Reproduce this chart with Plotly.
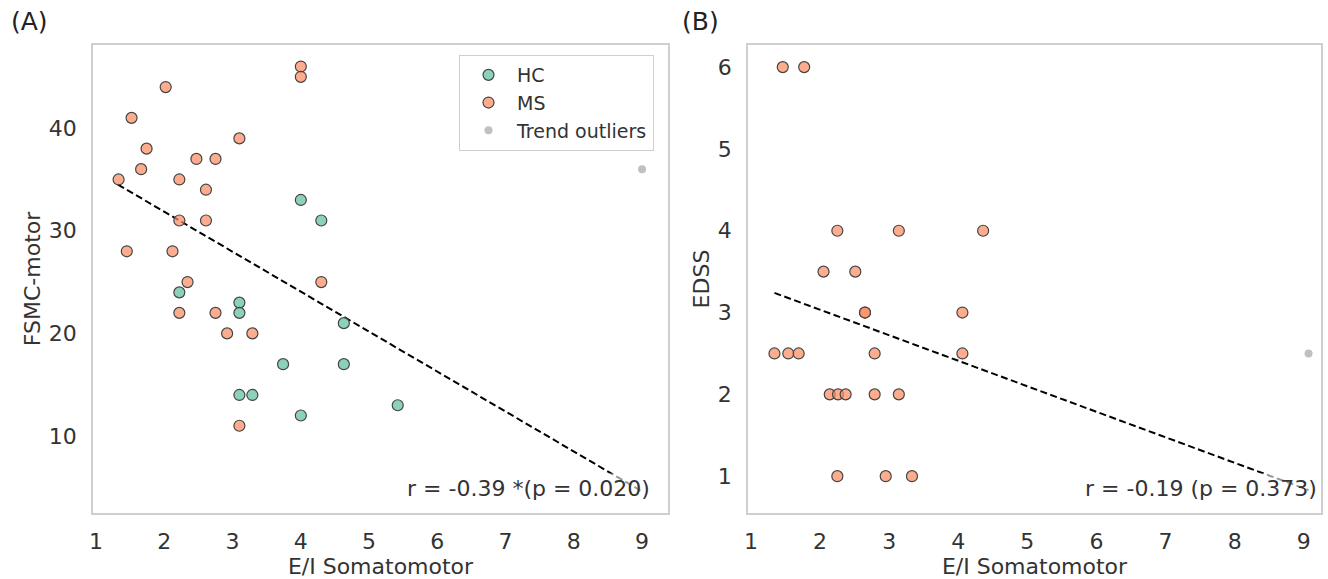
import plotly.graph_objects as go

# ---------- data ----------
# Panel A: FSMC-motor vs E/I Somatomotor
hc_a_x = [4.0, 4.30, 2.22, 3.10, 3.10, 4.63, 3.74, 4.63, 3.10, 3.29, 4.0, 5.42]
hc_a_y = [33, 31, 24, 23, 22, 21, 17, 17, 14, 14, 12, 13]
ms_a_x = [4.0, 4.0, 2.02, 1.52, 3.10, 1.74, 2.47, 2.75, 1.66, 1.33, 2.22, 2.61,
          2.22, 2.61, 1.45, 2.12, 2.34, 4.30, 2.22, 2.75, 2.92, 3.29, 3.10]
ms_a_y = [46, 45, 44, 41, 39, 38, 37, 37, 36, 35, 35, 34,
          31, 31, 28, 28, 25, 25, 22, 22, 20, 20, 11]
out_a_x = [9.0]
out_a_y = [36]
trend_a_x = [1.32, 9.0]
trend_a_y = [34.5, 4.6]
stat_a = "r = -0.39 *(p = 0.020)"

# Panel B: EDSS vs E/I Somatomotor (MS only)
ms_b_x = [1.46, 1.77, 2.25, 3.14, 4.36, 2.05, 2.51, 2.65, 2.65, 4.06, 1.34, 1.54,
          1.69, 2.79, 4.06, 2.14, 2.26, 2.37, 2.79, 3.14, 2.25, 2.95, 3.33]
ms_b_y = [6, 6, 4, 4, 4, 3.5, 3.5, 3, 3, 3, 2.5, 2.5,
          2.5, 2.5, 2.5, 2, 2, 2, 2, 2, 1, 1, 1]
out_b_x = [9.07]
out_b_y = [2.5]
trend_b_x = [1.34, 9.07]
trend_b_y = [3.24, 0.83]
stat_b = "r = -0.19 (p = 0.373)"

x_ticks = [1, 2, 3, 4, 5, 6, 7, 8, 9]
y_ticks_a = [10, 20, 30, 40]
y_ticks_b = [1, 2, 3, 4, 5, 6]

# ---------- style ----------
W, H = 1328, 579
FONT = "DejaVu Sans"
TXT = "#333333"
HC_COL = "rgba(102,194,165,0.75)"
MS_COL = "rgba(252,141,98,0.72)"
EDGE = "#444444"
OUT_COL = "#c0c0c0"
FRAME = "#cfcfcf"
DASH = "7px,3.5px"

def px_x(p):
    return p / W

def px_y(p):
    return 1 - p / H

fig = go.Figure()

mk = lambda c: dict(size=11, color=c, line=dict(color=EDGE, width=1.2))

# Panel A
fig.add_trace(go.Scatter(x=trend_a_x, y=trend_a_y, mode="lines",
                         line=dict(color="black", width=2, dash=DASH),
                         showlegend=False, xaxis="x", yaxis="y", hoverinfo="skip"))
fig.add_trace(go.Scatter(x=hc_a_x, y=hc_a_y, mode="markers", name="HC",
                         marker=mk(HC_COL), xaxis="x", yaxis="y"))
fig.add_trace(go.Scatter(x=ms_a_x, y=ms_a_y, mode="markers", name="MS",
                         marker=mk(MS_COL), xaxis="x", yaxis="y"))
fig.add_trace(go.Scatter(x=out_a_x, y=out_a_y, mode="markers", name="Trend outliers",
                         marker=dict(size=8, color=OUT_COL), xaxis="x", yaxis="y"))

# Panel B
fig.add_trace(go.Scatter(x=trend_b_x, y=trend_b_y, mode="lines",
                         line=dict(color="black", width=2, dash=DASH),
                         showlegend=False, xaxis="x2", yaxis="y2", hoverinfo="skip"))
fig.add_trace(go.Scatter(x=ms_b_x, y=ms_b_y, mode="markers", name="MS",
                         marker=mk(MS_COL), xaxis="x2", yaxis="y2", showlegend=False))
fig.add_trace(go.Scatter(x=out_b_x, y=out_b_y, mode="markers", name="Trend outliers",
                         marker=dict(size=8, color=OUT_COL), xaxis="x2", yaxis="y2",
                         showlegend=False))

ydom = [px_y(513), px_y(45)]
axis_common = dict(showgrid=False, zeroline=False, showline=True, mirror=True,
                   linecolor=FRAME, linewidth=1.5, ticks="",
                   tickfont=dict(family=FONT, size=22, color=TXT),
                   title_font=dict(family=FONT, size=22, color=TXT),
                   automargin=False)

fig.update_layout(
    width=W, height=H,
    margin=dict(l=0, r=0, t=0, b=0),
    paper_bgcolor="white", plot_bgcolor="white",
    font=dict(family=FONT, color=TXT),
    xaxis=dict(domain=[px_x(93), px_x(668)], range=[0.955, 9.38], anchor="y",
               tickvals=x_ticks, title=dict(text="E/I Somatomotor", standoff=2),
               ticklabelstandoff=8, **axis_common),
    yaxis=dict(domain=ydom, range=[2.5, 48.1], anchor="x",
               tickvals=y_ticks_a, title=dict(text="FSMC-motor", standoff=2),
               ticklabelstandoff=10, **axis_common),
    xaxis2=dict(domain=[px_x(748), px_x(1321)], range=[0.957, 9.25], anchor="y2",
                tickvals=x_ticks, title=dict(text="E/I Somatomotor", standoff=2),
                ticklabelstandoff=8, **axis_common),
    yaxis2=dict(domain=ydom, range=[0.55, 6.27], anchor="x2",
                tickvals=y_ticks_b, title=dict(text="EDSS", standoff=2),
                ticklabelstandoff=10, **axis_common),
    legend=dict(x=px_x(459), y=px_y(55), xanchor="left", yanchor="top",
                bordercolor=FRAME, borderwidth=1, bgcolor="rgba(255,255,255,0.8)",
                font=dict(family=FONT, size=19, color=TXT),
                itemwidth=47),
    showlegend=True,
)

fig.add_annotation(text=stat_a, xref="paper", yref="paper",
                   x=px_x(653), y=px_y(488), xanchor="right", yanchor="middle",
                   showarrow=False, font=dict(family=FONT, size=22, color=TXT),
                   bgcolor="rgba(255,255,255,0.6)", borderpad=2)
fig.add_annotation(text=stat_b, xref="paper", yref="paper",
                   x=px_x(1320), y=px_y(488), xanchor="right", yanchor="middle",
                   showarrow=False, font=dict(family=FONT, size=22, color=TXT),
                   bgcolor="rgba(255,255,255,0.6)", borderpad=2)

fig.add_annotation(text="(A)", xref="paper", yref="paper", x=px_x(9), y=px_y(22),
                   xanchor="left", yanchor="middle", showarrow=False,
                   font=dict(family=FONT, size=25, color="#222222"))
fig.add_annotation(text="(B)", xref="paper", yref="paper", x=px_x(680), y=px_y(22),
                   xanchor="left", yanchor="middle", showarrow=False,
                   font=dict(family=FONT, size=25, color="#222222"))

fig.write_html("out.html")
